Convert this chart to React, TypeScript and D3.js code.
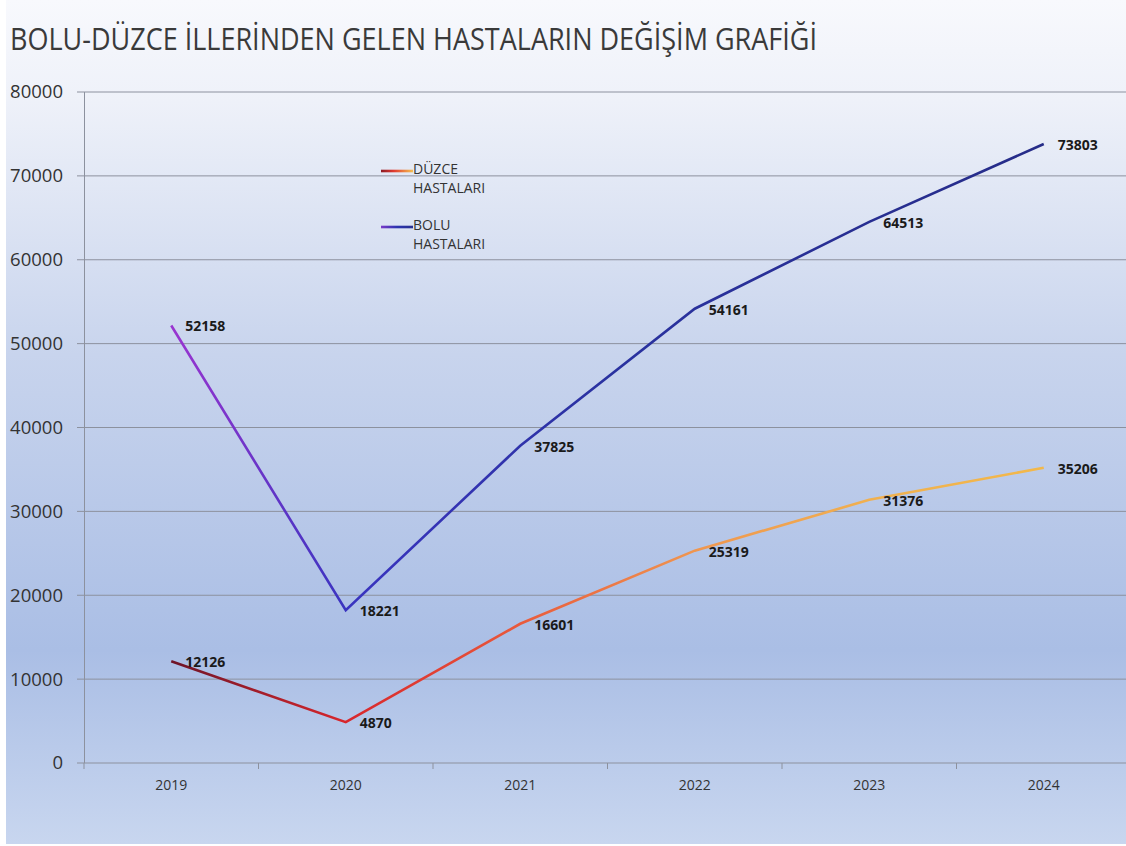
import React from "react";
import * as d3 from "d3";

const years = ["2019", "2020", "2021", "2022", "2023", "2024"];
const boluValues = [52158, 18221, 37825, 54161, 64513, 73803];
const duzceValues = [12126, 4870, 16601, 25319, 31376, 35206];
const yTicks = [0, 10000, 20000, 30000, 40000, 50000, 60000, 70000, 80000];
const titleText = "BOLU-DÜZCE İLLERİNDEN GELEN HASTALARIN DEĞİŞİM GRAFİĞİ";
const legendItems = [
  { key: "duzce", lines: ["DÜZCE", "HASTALARI"] },
  { key: "bolu", lines: ["BOLU", "HASTALARI"] },
];

const W = 1126;
const H = 846;
const FONT = "'Open Sans', 'Noto Sans', sans-serif";

export default function App() {
  const x = d3.scaleBand<string>().domain(years).range([84, 1131]).padding(0);
  const y = d3.scaleLinear().domain([0, 80000]).range([763, 92]);
  const cx = (yr: string) => (x(yr) as number) + x.bandwidth() / 2;

  const line = d3
    .line<number>()
    .x((_, i) => cx(years[i]))
    .y((d) => y(d));

  const bw = x.bandwidth();
  const boundaries = years.map((yr) => x(yr) as number).concat([(x(years[5]) as number) + bw]);

  const x0 = cx(years[0]);
  const x5 = cx(years[5]);

  return (
    <svg
      width={W}
      height={H}
      style={{ position: "absolute", left: 0, top: 0, fontFamily: FONT }}
    >
      <defs>
        <linearGradient id="bg" x1="0" y1="0" x2="0" y2="1">
          <stop offset="0" stopColor="#f8f9fd" />
          <stop offset="0.12" stopColor="#eef1f9" />
          <stop offset="0.42" stopColor="#c8d4ed" />
          <stop offset="0.77" stopColor="#aabee5" />
          <stop offset="1" stopColor="#c8d6ef" />
        </linearGradient>
        <linearGradient id="boluGrad" gradientUnits="userSpaceOnUse" x1={x0} y1="0" x2={x5} y2="0">
          <stop offset="0" stopColor="#9a35d0" />
          <stop offset="0.2" stopColor="#3a34c0" />
          <stop offset="0.5" stopColor="#2a32a0" />
          <stop offset="1" stopColor="#262c88" />
        </linearGradient>
        <linearGradient id="duzceGrad" gradientUnits="userSpaceOnUse" x1={x0} y1="0" x2={x5} y2="0">
          <stop offset="0" stopColor="#6e1428" />
          <stop offset="0.2" stopColor="#d8262c" />
          <stop offset="0.4" stopColor="#e95a3c" />
          <stop offset="0.6" stopColor="#ef9650" />
          <stop offset="0.8" stopColor="#f0b050" />
          <stop offset="1" stopColor="#f2b84a" />
        </linearGradient>
        <linearGradient id="legDuzce" x1="0" y1="0" x2="1" y2="0">
          <stop offset="0" stopColor="#8a1a24" />
          <stop offset="0.4" stopColor="#e03a30" />
          <stop offset="1" stopColor="#f5c050" />
        </linearGradient>
        <linearGradient id="legBolu" x1="0" y1="0" x2="1" y2="0">
          <stop offset="0" stopColor="#7a3ac8" />
          <stop offset="0.5" stopColor="#2c34b0" />
          <stop offset="1" stopColor="#283090" />
        </linearGradient>
      </defs>

      <rect x={0} y={0} width={W} height={H} fill="#ffffff" />
      <rect x={6} y={0} width={W - 6} height={844} fill="url(#bg)" />

      <text
        x={10}
        y={50}
        fontSize={31}
        fill="#3a3a3a"
        textLength={807}
        lengthAdjust="spacingAndGlyphs"
      >
        {titleText}
      </text>

      {/* gridlines */}
      {yTicks.map((t) => (
        <g key={t}>
          <line x1={77} x2={W} y1={y(t)} y2={y(t)} stroke="#8c919e" strokeWidth={1} />
          <text
            x={63}
            y={y(t)}
            dy="0.35em"
            textAnchor="end"
            fontSize={18.5}
            fill="#333333"
          >
            {t}
          </text>
        </g>
      ))}

      {/* y axis */}
      <line x1={84.5} x2={84.5} y1={92} y2={763} stroke="#8c919e" strokeWidth={1} />

      {/* x ticks */}
      {boundaries.map((b, i) => (
        <line key={i} x1={b} x2={b} y1={763} y2={769} stroke="#8c919e" strokeWidth={1} />
      ))}
      {years.map((yr) => (
        <text key={yr} x={cx(yr)} y={790} textAnchor="middle" fontSize={14} fill="#333333">
          {yr}
        </text>
      ))}

      {/* lines */}
      <path d={line(boluValues) || ""} fill="none" stroke="url(#boluGrad)" strokeWidth={2.6} strokeLinejoin="miter" />
      <path d={line(duzceValues) || ""} fill="none" stroke="url(#duzceGrad)" strokeWidth={2.6} strokeLinejoin="miter" />

      {/* data labels */}
      {boluValues.map((v, i) => (
        <text
          key={"b" + i}
          x={cx(years[i]) + 14}
          y={y(v) + 1}
          dy="0.35em"
          fontSize={14}
          fontWeight="bold"
          fill="#1a1a1a"
        >
          {v}
        </text>
      ))}
      {duzceValues.map((v, i) => (
        <text
          key={"d" + i}
          x={cx(years[i]) + 14}
          y={y(v) + 1}
          dy="0.35em"
          fontSize={14}
          fontWeight="bold"
          fill="#1a1a1a"
        >
          {v}
        </text>
      ))}

      {/* legend */}
      {legendItems.map((it, i) => {
        const ly = 171 + i * 56;
        return (
          <g key={it.key}>
            <rect
              x={381}
              y={ly - 1.3}
              width={32}
              height={2.6}
              fill={it.key === "duzce" ? "url(#legDuzce)" : "url(#legBolu)"}
            />
            {it.lines.map((l, j) => (
              <text key={j} x={413} y={ly - 2 + j * 19} dy="0.35em" fontSize={14} fill="#333333">
                {l}
              </text>
            ))}
          </g>
        );
      })}
    </svg>
  );
}
